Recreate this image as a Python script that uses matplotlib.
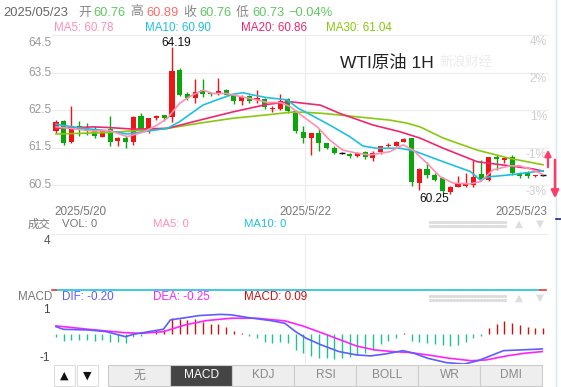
import matplotlib
matplotlib.use('Agg')
import matplotlib.pyplot as plt
from matplotlib.patches import Rectangle
import numpy as np

plt.rcParams['font.family'] = ['Liberation Sans', 'Noto Sans CJK SC', 'DejaVu Sans']

# ---------------- data ----------------
opens = [61.93, 62.21, 61.66, 62.07, 62.00, 61.97, 61.79, 62.00, 61.68, 61.74,
         61.66, 62.34, 61.97, 62.28, 62.36, 62.31, 63.58, 62.94, 62.83, 63.03,
         62.94, 62.94, 63.03, 62.89, 62.75, 62.87, 62.77, 62.79, 62.52, 62.53,
         62.79, 62.47, 61.92, 61.75, 61.88, 61.61, 61.50, 61.35, 61.33, 61.27,
         61.39, 61.23, 61.39, 61.53, 61.54, 61.66, 61.74, 60.56, 60.92, 60.78,
         60.69, 60.31, 60.46, 60.48, 60.50, 60.78, 60.63, 61.25, 61.17, 61.25,
         60.83, 60.85, 60.74, 60.76]
highs = [62.23, 62.23, 62.61, 62.20, 62.15, 62.08, 61.97, 62.33, 61.78, 61.81,
         62.35, 62.42, 62.29, 62.36, 62.38, 64.19, 63.63, 62.99, 63.32, 63.32,
         62.96, 63.36, 63.05, 62.90, 62.90, 62.90, 63.03, 62.83, 62.60, 62.93,
         62.83, 62.50, 62.07, 61.90, 62.00, 61.63, 61.54, 61.37, 61.35, 61.38,
         61.41, 61.42, 61.55, 61.63, 61.68, 61.76, 61.76, 60.95, 61.12, 60.82,
         60.72, 60.47, 60.75, 60.81, 61.17, 61.17, 61.26, 61.29, 61.25, 61.29,
         60.85, 60.88, 60.77, 60.80]
lows = [61.88, 61.57, 61.63, 61.80, 61.83, 61.75, 61.77, 61.53, 61.55, 61.48,
        61.58, 61.93, 61.90, 62.24, 62.22, 62.19, 62.87, 62.78, 62.68, 62.86,
        62.88, 62.90, 62.89, 62.67, 62.64, 62.70, 62.68, 62.52, 62.45, 62.50,
        62.42, 61.90, 61.63, 61.30, 61.41, 61.46, 61.32, 61.32, 61.22, 61.25,
        61.20, 61.14, 61.33, 61.52, 61.53, 61.64, 60.47, 60.37, 60.70, 60.60,
        60.25, 60.27, 60.45, 60.44, 60.45, 60.62, 60.60, 60.89, 61.10, 60.78,
        60.68, 60.70, 60.71, 60.73]
closes = [62.19, 61.61, 62.06, 61.97, 61.95, 61.82, 61.94, 61.65, 61.74, 61.66,
          62.31, 61.99, 62.29, 62.34, 62.29, 63.55, 62.90, 62.82, 62.99, 62.94,
          62.92, 63.01, 62.91, 62.74, 62.85, 62.75, 62.81, 62.59, 62.56, 62.74,
          62.47, 61.93, 61.75, 61.88, 61.62, 61.50, 61.35, 61.35, 61.28, 61.36,
          61.26, 61.36, 61.54, 61.56, 61.66, 61.73, 60.57, 60.92, 60.77, 60.63,
          60.33, 60.45, 60.52, 60.52, 60.72, 60.64, 61.24, 61.19, 61.20, 60.82,
          60.73, 60.75, 60.76, 60.76]

# moving averages (candle index, price)
ma5_x = [0, 4.8, 7.0, 9.2, 11.3, 13.1, 14.4, 16.0, 17.3, 19.0, 20.3, 22.1, 23.8, 26.0,
         27.3, 29.0, 30.3, 32.0, 33.8, 35.4, 37.1, 38.9, 40.6, 43.2, 44.9, 46.2, 47.1,
         48.0, 49.7, 51.4, 53.6, 54.9, 56.5, 58.7, 60.0, 61.7, 63.0]
ma5_y = [62.05, 61.94, 61.95, 61.79, 61.91, 62.10, 62.28, 62.68, 62.86, 63.03, 62.94,
         62.94, 62.86, 62.77, 62.70, 62.70, 62.59, 62.32, 62.05, 61.70, 61.43, 61.35,
         61.30, 61.39, 61.57, 61.43, 61.25, 61.08, 60.72, 60.55, 60.53, 60.59, 60.90,
         61.01, 61.01, 60.90, 60.78]
ma10_x = [0, 3.5, 7.0, 9.2, 11.3, 14.4, 16.0, 19.0, 20.8, 22.9, 24.2, 25.5, 27.3, 29.9,
          31.3, 32.6, 35.4, 38.0, 39.7, 41.5, 44.5, 46.3, 50.1, 53.6, 54.9, 56.1, 58.7, 63.0]
ma10_y = [62.12, 62.01, 61.94, 61.86, 61.92, 62.01, 62.19, 62.63, 62.77, 62.92, 62.96,
          62.90, 62.83, 62.77, 62.55, 62.41, 62.10, 61.79, 61.54, 61.48, 61.48, 61.41,
          61.12, 60.86, 60.63, 60.72, 60.77, 60.88]
ma20_x = [0, 4.8, 7.0, 10.0, 14.4, 18.6, 22.9, 27.3, 30.3, 34.2, 36.7, 41.0, 44.5, 47.1,
          50.1, 54.5, 58.7, 61.7, 63.0]
ma20_y = [62.01, 62.05, 62.03, 61.99, 62.01, 62.23, 62.45, 62.65, 62.72, 62.63, 62.41,
          62.10, 61.92, 61.75, 61.48, 61.12, 61.01, 60.93, 60.87]
ma30_x = [0, 7.0, 14.4, 18.6, 22.9, 27.3, 30.3, 32.0, 34.5, 38.9, 43.2, 45.4, 47.1, 50.1,
          54.5, 58.7, 63.0]
ma30_y = [61.86, 61.90, 62.01, 62.15, 62.28, 62.37, 62.44, 62.44, 62.41, 62.32, 62.23,
          62.15, 62.05, 61.75, 61.43, 61.21, 61.04]

# MACD panel
macd_bars = [-0.12, -0.26, -0.24, -0.24, -0.24, -0.26, -0.24, -0.31, -0.33, -0.35,
             -0.10, -0.05, 0.03, 0.17, 0.18, 0.68, 0.64, 0.60, 0.63, 0.53,
             0.43, 0.42, 0.32, 0.14, 0.05, -0.05, -0.14, -0.31, -0.35, -0.31,
             -0.38, -0.65, -0.79, -0.89, -0.97, -1.00, -1.04, -1.00, -0.96, -0.86,
             -0.76, -0.65, -0.40, -0.26, -0.17, 0.07, -0.28, -0.33, -0.38, -0.42,
             -0.44, -0.49, -0.44, -0.33, -0.17, -0.07, 0.28, 0.42, 0.56, 0.46,
             0.39, 0.32, 0.28, 0.25]
dif_x = [0, 0.9, 4.2, 6.5, 9.0, 10.0, 12.0, 13.9, 14.8, 16.7, 18.5, 21.3, 22.7, 25.0,
         27.8, 29.6, 31.0, 32.4, 34.3, 36.6, 38.9, 40.7, 42.6, 44.9, 46.3, 48.1, 50.5,
         52.8, 54.6, 56.5, 57.9, 60.2, 62.9]
dif_y = [0.32, 0.21, 0.18, 0.11, -0.10, 0.0, 0.11, 0.21, 0.60, 0.69, 0.78, 0.83, 0.81,
         0.69, 0.57, 0.46, 0.11, -0.17, -0.44, -0.72, -0.86, -0.90, -0.82, -0.68, -0.79,
         -1.00, -1.18, -1.24, -1.10, -0.86, -0.68, -0.65, -0.61]
dea_x = [0, 4.2, 8.8, 11.1, 13.9, 16.7, 19.4, 22.7, 25.9, 29.6, 31.9, 34.3, 36.6, 38.9,
         41.2, 43.5, 45.8, 48.1, 50.9, 53.7, 55.6, 58.3, 60.6, 62.9]
dea_y = [0.35, 0.21, 0.07, 0.04, 0.11, 0.39, 0.57, 0.67, 0.67, 0.56, 0.35, 0.07, -0.21,
         -0.49, -0.65, -0.72, -0.76, -0.86, -1.00, -1.10, -1.07, -0.90, -0.79, -0.72]

price_ticks = [64.5, 63.5, 62.5, 61.5, 60.5]
price_labels = ['64.5', '63.5', '62.5', '61.5', '60.5']
pct_labels = ['4%', '2%', '1%', '-1%', '-3%']
date_labels = ['2025/5/20', '2025/5/22', '2025/5/23']
divider_idx = 32.2
macd_ticks = [1, -1]
tabs = ['无', 'MACD', 'KDJ', 'RSI', 'BOLL', 'WR', 'DMI']

# ---------------- layout helpers ----------------
W, H = 561, 387
fig = plt.figure(figsize=(W / 100, H / 100), dpi=100)
fig.patch.set_facecolor('white')


def px_axes(x0, y0, x1, y1, **kw):
    a = fig.add_axes([x0 / W, 1 - y1 / H, (x1 - x0) / W, (y1 - y0) / H], **kw)
    a.axis('off')
    return a


RED = '#f01414'
GREEN = '#0ba60b'
C5, C10, C20, C30 = '#ff8fb4', '#1ec0e0', '#f0266f', '#88c80e'
GRID = '#ececec'

# ---------------- main price panel ----------------
MX0, MY0, MX1, MY1 = 52, 35, 547, 205
ax = px_axes(MX0, MY0, MX1, MY1)
step = 7.73
xlim = ((MX0 - 56) / step, (MX1 - 56) / step)
ylim = (64.5 - (MY1 - MY0) / 37.5, 64.5)
ax.set_xlim(*xlim)
ax.set_ylim(*ylim)
for v in price_ticks:
    ax.axhline(v, color=GRID, lw=0.8, zorder=0, clip_on=False)
ax.axvline(divider_idx, color=GRID, lw=0.8, zorder=0)

idx = np.arange(len(closes))
for i, o, h, l, c in zip(idx, opens, highs, lows, closes):
    if c > o:
        col = RED
    elif c < o:
        col = GREEN
    else:
        col = '#111111'
    ax.vlines(i, l, h, color=col, lw=1.0, zorder=3)
    if c == o:
        ax.hlines(o, i - 0.4, i + 0.4, color=col, lw=1.0, zorder=3)
    else:
        hgt = max(abs(c - o), 0.04)
        ax.bar(i, hgt, bottom=min(o, c), width=0.66, color=col, zorder=3, lw=0)

ax.plot(ma30_x, ma30_y, color=C30, lw=1.2, zorder=4)
ax.plot(ma20_x, ma20_y, color=C20, lw=1.2, zorder=4)
ax.plot(ma10_x, ma10_y, color=C10, lw=1.2, zorder=4)
ax.plot(ma5_x, ma5_y, color=C5, lw=1.2, zorder=4)

imax = int(np.argmax(highs))
imin = int(np.argmin(lows))
ax.annotate(f'{highs[imax]:.2f}', (imax, highs[imax]), xytext=(4, 4),
            textcoords='offset pixels', ha='center', va='center', fontsize=8.6,
            color='#111111', zorder=6)
ax.annotate(f'{lows[imin]:.2f}', (imin, lows[imin]), xytext=(-8, -5),
            textcoords='offset pixels', ha='center', va='center', fontsize=8.6,
            color='#111111', zorder=6)

# ---------------- MACD panel ----------------
ax_m = px_axes(MX0, 303, MX1, 364)
ax_m.set_xlim(*xlim)
ax_m.set_ylim((334.3 - 364) / 24, (334.3 - 303) / 24)
ax_m.axvline(divider_idx, color=GRID, lw=0.8, zorder=0)
bar_cols = ['#cc1010' if v > 0 else '#18c496' for v in macd_bars]
ax_m.vlines(idx, 0, macd_bars, colors=bar_cols, lw=1.0, zorder=2)
ax_m.plot(dea_x, dea_y, color='#ff22ff', lw=1.2, zorder=3)
ax_m.plot(dif_x, dif_y, color='#5c5cff', lw=1.2, zorder=3)

# ---------------- overlay (texts & decorations) ----------------
ov = fig.add_axes([0, 0, 1, 1], zorder=10)
ov.set_xlim(0, W)
ov.set_ylim(H, 0)
ov.axis('off')
ov.patch.set_alpha(0)


def p2y(p):
    return MY0 + (64.5 - p) * 37.5


def i2x(i):
    return 56 + step * i


HG = '#888888'
LG = '#5fc85f'
LR = '#ff6a6a'
hdr = [('2025/05/23', 3, '#666666'), ('开', 78, HG), ('60.76', 93, LG), ('高', 130, HG),
       ('60.89', 146, LR), ('收', 183, HG), ('60.76', 199, LG), ('低', 236, HG),
       ('60.73', 252, LG), ('\u22120.04%', 288, LG)]
for t, x, c in hdr:
    ov.text(x, 12.5, t, fontsize=9.3, color=c, va='center', ha='left')

for t, x, c in [('MA5: 60.78', 54, C5), ('MA10: 60.90', 145, C10),
                ('MA20: 60.86', 241, C20), ('MA30: 61.04', 326, C30)]:
    ov.text(x, 28, t, fontsize=8.4, color=c, va='center', ha='left')

for k, (p, lab) in enumerate(zip(price_ticks, price_labels)):
    yy = p2y(p) + (8 if k == 0 else 0)
    ov.text(52, yy, lab, fontsize=8.6, color='#9a9a9a', va='center', ha='right')
for p, lab in zip(price_ticks, pct_labels):
    ov.text(547, p2y(p) + 7, lab, fontsize=8.6, color='#cfcfcf', va='center', ha='right')

ov.text(340, 63, 'WTI原油 1H', fontsize=12.5, color='#222222', va='center', ha='left')
ov.text(466, 62, '新浪财经', fontsize=9.5, color='#ececec', va='center', ha='center',
        style='italic')

ov.text(80, 212, date_labels[0], fontsize=8.4, color='#777777', va='center', ha='center')
ov.text(i2x(divider_idx), 212, date_labels[1], fontsize=8.4, color='#777777',
        va='center', ha='center')
ov.text(547, 212, date_labels[2], fontsize=8.4, color='#777777', va='center', ha='right')

# volume panel
ov.plot([MX0, MX1], [233.5, 233.5], color=GRID, lw=0.8)
ov.plot([i2x(divider_idx)] * 2, [233.5, 290], color=GRID, lw=0.8)
ov.text(50, 240.5, '4', fontsize=8.5, color='#555555', va='center', ha='right')
for t, x, c in [('成交', 28, '#777777'), ('VOL: 0', 62, '#777777'),
                ('MA5: 0', 153, C5), ('MA10: 0', 244, C10)]:
    ov.text(x, 224, t, fontsize=8.2, color=c, va='center', ha='left')

ov.plot([56, 540], [290, 290], color='#1ec0e0', lw=1.2)
ov.plot([52, 56], [290, 290], color='#ff3030', lw=1.2)
ov.plot([540, 546], [290, 290], color='#ff3030', lw=1.2)

# MACD header & ticks
for t, x, c in [('MACD', 18, '#777777'), ('DIF: -0.20', 62, '#5c5cff'),
                ('DEA: -0.25', 153, '#ff22ff'), ('MACD: 0.09', 244, '#cc1010')]:
    ov.text(x, 297.5, t, fontsize=8.4, color=c, va='center', ha='left')
for v in macd_ticks:
    ov.text(50, 334.3 - v * 24, str(v), fontsize=8.5, color='#444444', va='center', ha='right')

# dotted blocks and triangles (UI)
for yb in (224, 298):
    xs = np.arange(430, 506, 3)
    for dy in (-2, 1.5):
        ov.plot(xs, [yb + dy] * len(xs), ls='none', marker='s', ms=1.2, color='#dddddd')
    ov.text(519, yb, '▲', fontsize=7.5, color='#dddddd', va='center', ha='center',
            family='DejaVu Sans')
    ov.text(540, yb, '▼', fontsize=7.5, color='#dddddd', va='center', ha='center',
            family='DejaVu Sans')

# bottom buttons
for x0, sym in [(54, '▲'), (77, '▼')]:
    ov.add_patch(Rectangle((x0, 365), 21, 21, facecolor='white', edgecolor='#dddddd', lw=0.8))
    ov.text(x0 + 10.5, 375.5, sym, fontsize=8, color='#111111', va='center', ha='center',
            family='DejaVu Sans')
tx0, tw = 108.5, 62.0
for k, t in enumerate(tabs):
    sel = (t == 'MACD')
    ov.add_patch(Rectangle((tx0 + k * tw, 365), tw, 21,
                           facecolor='#454545' if sel else '#eeeeee',
                           edgecolor='#cccccc', lw=0.8))
    ov.text(tx0 + k * tw + tw / 2, 375.5, t, fontsize=8.6,
            color='white' if sel else '#8a8a8a', va='center', ha='center')

# right edge decorations
ov.plot([556.5, 556.5], [0, H], color='#d3e6f6', lw=1.0)
ov.plot([556, 561], [219, 219], color='#1a2a80', lw=1.2)
ov.annotate('', xy=(548, 147), xytext=(548, 170),
            arrowprops=dict(arrowstyle='-|>', color='#ff3a64', lw=1.6, mutation_scale=9))
ov.annotate('', xy=(555, 201), xytext=(555, 157),
            arrowprops=dict(arrowstyle='-|>', color='#ff3a64', lw=1.8, mutation_scale=11))

fig.savefig('out.png', dpi=100, facecolor='white')
